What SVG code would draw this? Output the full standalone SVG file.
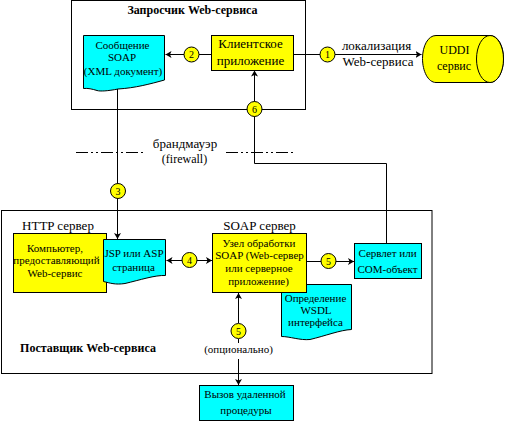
<svg xmlns="http://www.w3.org/2000/svg" width="505" height="421" viewBox="0 0 505 421">
<style>
text{font-family:"Liberation Serif","Times New Roman",serif;font-size:11px;fill:#000;text-anchor:middle}
.b{font-weight:bold;font-size:12px}
.m{font-size:12px}
.g{font-size:13px}
.y{fill:#ffff00;stroke:#000;stroke-width:1}
.c{fill:#00ffff;stroke:#000;stroke-width:1}
.f{fill:#fff;stroke:#000;stroke-width:1}
.l{fill:none;stroke:#000;stroke-width:1}
.d{fill:none;stroke:#000;stroke-width:1;stroke-dasharray:12 3 2 3 2 3}
.n{font-size:10px}
</style>
<defs>
<marker id="a" markerUnits="userSpaceOnUse" markerWidth="7" markerHeight="7" refX="6" refY="3.5" orient="auto-start-reverse"><path d="M0 0L6 3.5L0 7L1.5 3.5Z" fill="#000"/></marker>
</defs>
<rect width="505" height="421" fill="#fff"/>
<g id="requester-box"><rect class="f" x="71.5" y="0.5" width="234" height="109"/><text class="b" x="192.5" y="14">Запросчик Web-сервиса</text></g>
<g id="provider-box"><rect class="f" x="1.5" y="210.5" width="430.5" height="163"/><text class="b" x="88" y="351.5">Поставщик Web-сервиса</text></g>
<g id="connectors">
<path class="l" d="M211.5 54.5H165.5" marker-end="url(#a)"/>
<path class="l" d="M293.5 54.5H421.5" marker-end="url(#a)"/>
<path class="l" d="M254.5 163.5V70.5" marker-end="url(#a)"/>
<path class="l" d="M254.5 163.5H386.5V243"/>
<path class="l" d="M117.5 89V239" marker-end="url(#a)"/>
<path class="l" d="M166.5 260.5H212" marker-start="url(#a)" marker-end="url(#a)"/>
<path class="l" d="M306.5 261.5H354" marker-end="url(#a)"/>
<path class="l" d="M238.5 323V293" marker-end="url(#a)"/>
<path class="l" d="M238.5 339V343"/>
<path class="l" d="M238.5 359V385" marker-end="url(#a)"/>
<path class="d" d="M76 152.5H143M226 152.5H295"/>
</g>
<g id="firewall-label"><text class="g" x="185" y="148">брандмауэр</text><text class="m" x="184.5" y="163">(firewall)</text></g>
<g id="soap-message"><path class="c" d="M83.5 35.5H164.5V80C150 84 135 88 118 89C108 91 100 91.5 97 90.5C92 89 88 88 83.5 88.5Z"/><text x="122.5" y="49">Сообщение</text><text x="122" y="61">SOAP</text><text x="123" y="75">(XML документ)</text></g>
<g id="client-app"><rect class="y" x="211.5" y="35.5" width="82" height="35"/><text class="g" x="250.5" y="48">Клиентское</text><text class="g" x="250.5" y="65">приложение</text></g>
<g id="uddi"><path class="y" d="M436 35.5H490C498 35.5 503.5 46 503.5 58.5C503.5 71 498 82.5 490 82.5H436C428 82.5 422.5 71 422.5 58.5C422.5 46 428 35.5 436 35.5Z"/><ellipse class="y" cx="490" cy="59" rx="13.5" ry="23.5"/><text class="m" x="454.5" y="54">UDDI</text><text class="m" x="454" y="70">сервис</text></g>
<g id="uddi-label"><text class="g" x="376.5" y="50">локализация</text><text class="g" x="378" y="65.5">Web-сервиса</text></g>
<g id="http-server"><text class="g" x="58" y="230">HTTP сервер</text><rect class="y" x="13.5" y="233.5" width="93" height="59"/><text x="55" y="252">Компьютер,</text><text x="56.5" y="264">предоставляющий</text><text x="55" y="277">Web-сервис</text></g>
<g id="jsp-page"><path class="c" d="M103.5 239.5H165.5V275.5C155 275 140 280 125 283.5C115 285 110 283 103.5 281.5Z"/><text x="134" y="257">JSP или ASP</text><text x="133.5" y="271">страница</text></g>
<g id="wsdl"><path class="c" d="M281.5 284.5H351.5V329.5C340 330 325 336 310 339.5C300 340.5 290 336.5 281.5 336.5Z"/><text x="315.5" y="302">Определение</text><text x="316" y="313.5">WSDL</text><text x="315.5" y="326">интерфейса</text></g>
<g id="soap-server"><text class="g" x="259.5" y="230">SOAP сервер</text><rect class="y" x="212.5" y="233.5" width="94" height="59"/><text x="259" y="246.5">Узел обработки</text><text x="259.5" y="258.5">SOAP (Web-сервер</text><text x="259" y="271.5">или серверное</text><text x="258.5" y="285">приложение)</text></g>
<g id="servlet"><rect class="c" x="354.5" y="243.5" width="67" height="35"/><text x="387.5" y="257">Сервлет или</text><text x="387.5" y="272.5">COM-объект</text></g>
<g id="rpc"><rect class="c" x="199.5" y="385.5" width="94" height="35"/><text x="245" y="398">Вызов удаленной</text><text x="246" y="413.5">процедуры</text></g>
<g id="optional-label"><text x="238.5" y="353">(опционально)</text></g>
<g id="n1"><circle class="y" cx="327.5" cy="54.5" r="7.5"/><text class="n" x="327.5" y="58">1</text></g>
<g id="n2"><circle class="y" cx="191.5" cy="54.5" r="7.5"/><text class="n" x="191.5" y="58">2</text></g>
<g id="n3"><circle class="y" cx="118" cy="191" r="7.5"/><text class="n" x="118" y="194.5">3</text></g>
<g id="n4"><circle class="y" cx="189.5" cy="260" r="7.5"/><text class="n" x="189.5" y="263.5">4</text></g>
<g id="n5a"><circle class="y" cx="328.5" cy="261" r="7.5"/><text class="n" x="328.5" y="264.5">5</text></g>
<g id="n5b"><circle class="y" cx="238.5" cy="331" r="7.5"/><text class="n" x="238.5" y="334.5">5</text></g>
<g id="n6"><circle class="y" cx="254.5" cy="109" r="7.5"/><text class="n" x="254.5" y="112.5">6</text></g>
</svg>
